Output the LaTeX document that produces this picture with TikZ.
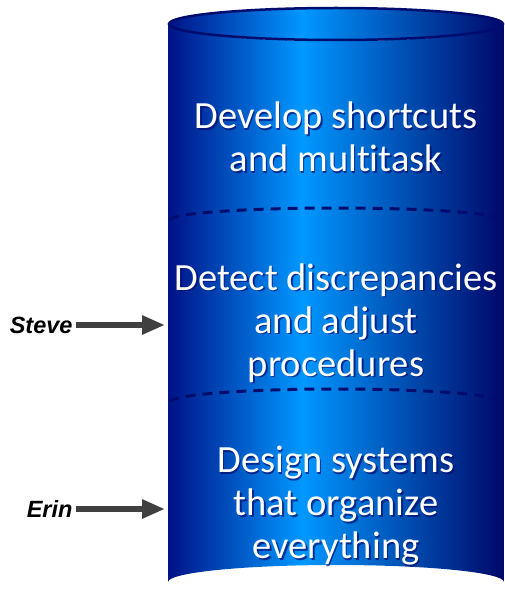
\documentclass[tikz,border=0pt]{standalone}
\usepackage{fontspec}
\setmainfont{Carlito}[Ligatures={NoCommon}]
\newfontfamily\labelfont{Liberation Sans}
\usetikzlibrary{arrows.meta}
\definecolor{navyL}{RGB}{0,18,135}
\definecolor{brightB}{RGB}{0,152,255}
\definecolor{navyR}{RGB}{0,8,105}
\definecolor{rimC}{RGB}{0,12,110}
\definecolor{arrowC}{RGB}{64,64,64}
\pgfdeclarehorizontalshading{cylshade}{100bp}{color(0bp)=(navyL); color(25bp)=(navyL); color(45bp)=(brightB); color(75bp)=(navyR); color(100bp)=(navyR)}
\tikzset{
  cyltext/.style={align=center, text=white, font=\fontsize{38.5}{43}\selectfont},
  cylshadow/.style={align=center, text=rimC, opacity=0.7, font=\fontsize{38.5}{43}\selectfont},
  who/.style={font=\labelfont\bfseries\itshape\fontsize{23.5}{26}\selectfont, anchor=east},
  pointer/.style={draw=arrowC, line width=6pt, -{Triangle[length=23pt,width=18pt]}},
  sep/.style={draw=rimC, line width=3pt, dash pattern=on 10pt off 7pt}
}
\begin{document}
\begin{tikzpicture}[x=1pt,y=-1pt]
\useasboundingbox (0,0) rectangle (505,599);
% body
\shade[shading=cylshade] (168,24) -- (168,582) arc[start angle=180,end angle=360,x radius=168,y radius=17] -- (504,24) arc[start angle=0,end angle=180,x radius=168,y radius=17] -- cycle;
% top
\shade[shading=cylshade, draw=rimC, line width=2.5pt] (336,24) ellipse[x radius=167,y radius=16];
% separators
\draw[sep] (170,220) arc[start angle=180,end angle=360,x radius=166,y radius=12];
\draw[sep] (170,402) arc[start angle=180,end angle=360,x radius=166,y radius=13];
% texts
\node[cylshadow] at (337.5,138.5) {Develop shortcuts\\and multitask};
\node[cyltext] (t1) at (336,137) {Develop shortcuts\\and multitask};
\node[cylshadow] at (337.5,324.5) {Detect discrepancies\\and adjust\\procedures};
\node[cyltext] (t2) at (336,323) {Detect discrepancies\\and adjust\\procedures};
\node[cylshadow] at (337.5,507.5) {Design systems\\that organize\\everything};
\node[cyltext] (t3) at (336,506) {Design systems\\that organize\\everything};
% labels and arrows
\node[who] (steve) at (76,325) {Steve};
\node[who] (erin) at (76,509) {Erin};
\coordinate (sTip) at (165,325);
\coordinate (eTip) at (165,509);
\draw[pointer] (steve.east) -- (sTip);
\draw[pointer] (erin.east) -- (eTip);
\end{tikzpicture}
\end{document}
